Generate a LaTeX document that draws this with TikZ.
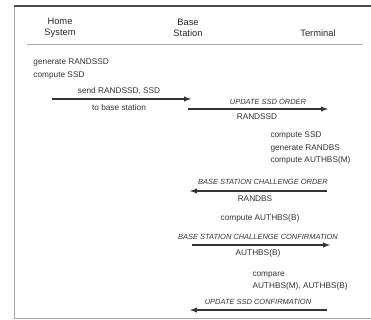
\documentclass[tikz,border=0pt]{standalone}
\usepackage{fontspec}
\setmainfont{Liberation Sans}
\tikzset{every picture/.style={line width=0.75pt}}
\tikzset{
	msg/.style={-latex, draw=black!80, line width=0.8pt},
	hdr/.style={font=\fontsize{7}{8.3}\selectfont, align=center, text=black!85},
	txt/.style={font=\fontsize{6.2}{9.2}\selectfont, align=left, inner sep=0pt, text=black!80},
	lbl/.style={font=\fontsize{5.6}{6.5}\selectfont\itshape, inner sep=0pt, text=black!80},
	frm/.style={draw=black!35, line width=0.5pt}}

\begin{document}
\begin{tikzpicture}[x=0.75pt,y=0.75pt,yscale=-1,xscale=1]
	\useasboundingbox (0,0) rectangle (371,320);

	%Frame
	\draw [frm] (14,6) -- (14,318) -- (371,318) ;
	\draw [draw=black!70, line width=1.6pt] (14,6) -- (371,6) ;
	\draw [frm] (27,44) -- (362,44) ;

	% Text Node
	\node [hdr] (home) at (60,28) {Home\\System};
	% Text Node
	\node [hdr] (base) at (188,28) {Base\\Station};
	% Text Node
	\node [hdr] (term) at (318,33) {Terminal};

	% Text Node
	\node [txt, anchor=west] (genssd) at (33,69) {generate RANDSSD\\compute SSD};
	% Text Node
	\node [txt, anchor=west] (termcomp) at (270,148) {compute SSD\\generate RANDBS\\compute AUTHBS(M)};
	% Text Node
	\node [txt] (basecomp) at (260,218) {compute AUTHBS(B)};
	% Text Node
	\node [txt, anchor=west] (compare) at (252,281) {compare\\AUTHBS(M), AUTHBS(B)};

	%Straight Lines
	\coordinate (s1) at (52,99);
	\coordinate (e1) at (191,99);
	\draw [msg] (s1) -- (e1) ;
	\node [txt] (send) at (119,91) {send RANDSSD, SSD};
	\node [txt] (tobase) at (119,108) {to base station};

	%Straight Lines
	\coordinate (s2) at (188,109);
	\coordinate (e2) at (328,109);
	\draw [msg] (s2) -- (e2) ;
	\node [lbl] (updorder) at (268,102) {UPDATE SSD ORDER};
	\node [txt] (randssd) at (257,117) {RANDSSD};

	%Straight Lines
	\coordinate (s3) at (327,191);
	\coordinate (e3) at (190,191);
	\draw [msg] (s3) -- (e3) ;
	\node [lbl] (chorder) at (263,182) {BASE STATION CHALLENGE ORDER};
	\node [txt] (randbs) at (255,199) {RANDBS};

	%Straight Lines
	\coordinate (s4) at (192,245);
	\coordinate (e4) at (330,245);
	\draw [msg] (s4) -- (e4) ;
	\node [lbl] (chconf) at (258,237) {BASE STATION CHALLENGE CONFIRMATION};
	\node [txt] (authbs) at (258,253) {AUTHBS(B)};

	%Straight Lines
	\coordinate (s5) at (327,310);
	\coordinate (e5) at (190,310);
	\draw [msg] (s5) -- (e5) ;
	\node [lbl] (updconf) at (258,302) {UPDATE SSD CONFIRMATION};

\end{tikzpicture}
\end{document}
